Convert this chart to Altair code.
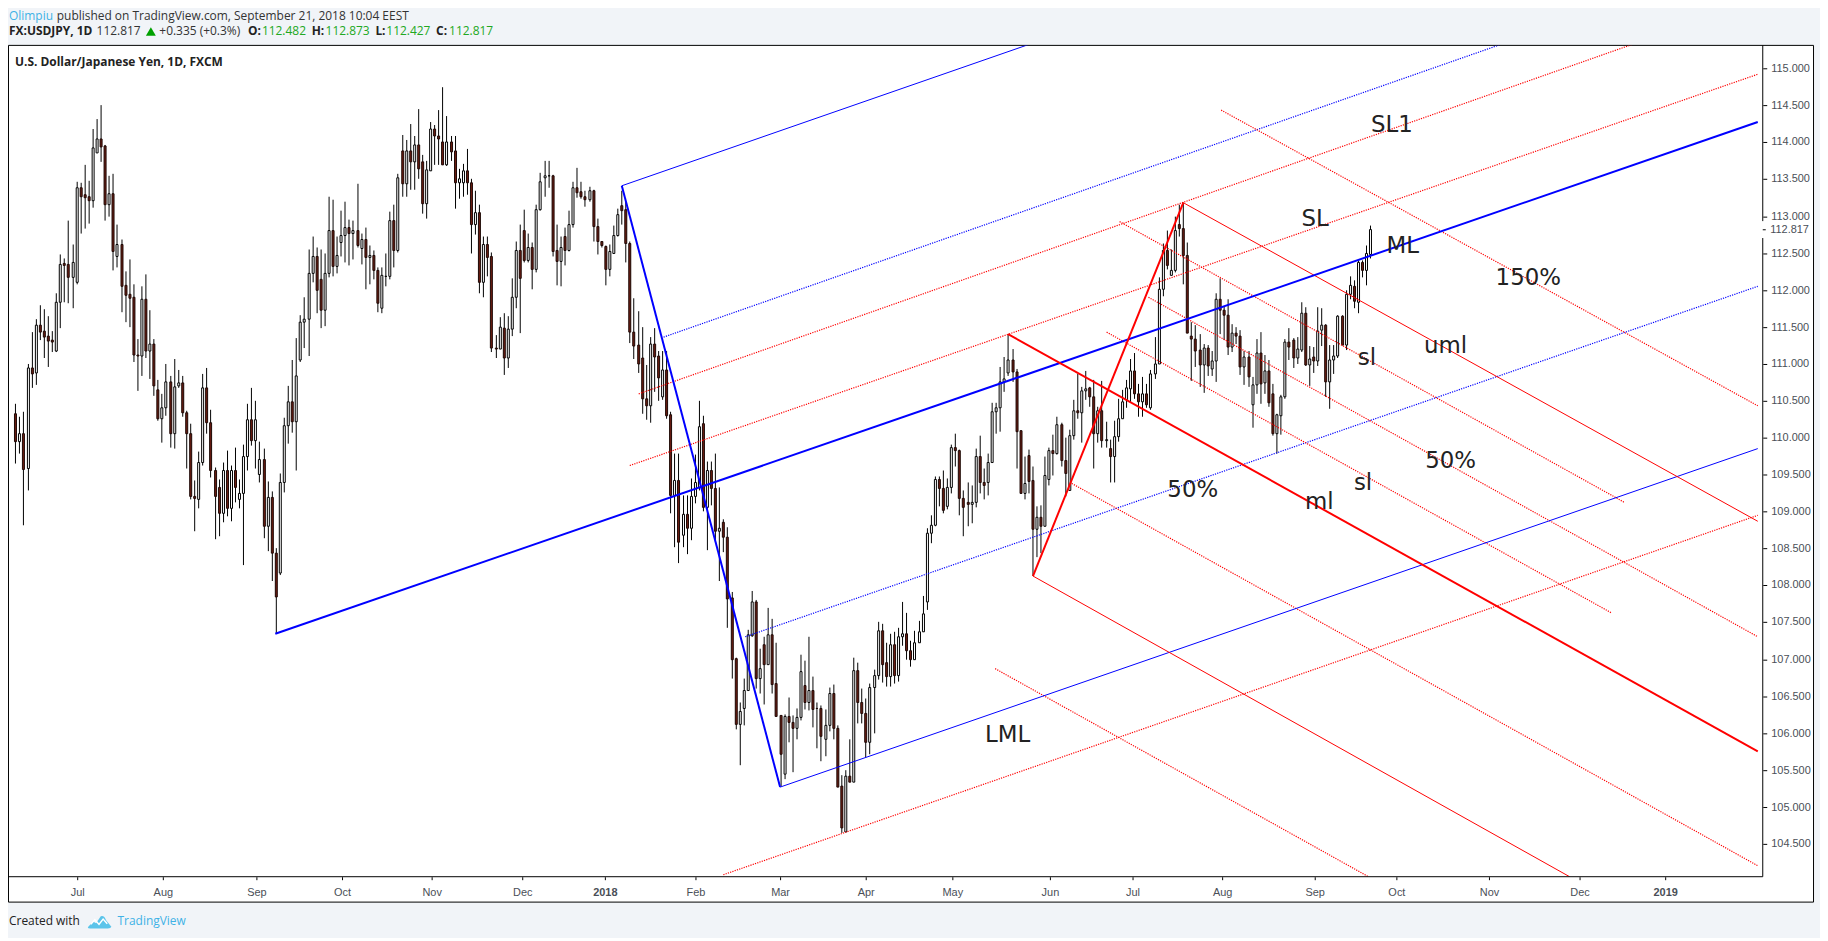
import altair as alt
import pandas as pd

opens = [110.32,109.94,110.06,109.58,110.95,110.88,111.53,111.44,111.37,111.32,
111.18,111.84,112.36,112.34,112.17,112.10,113.39,113.29,113.26,113.21,
113.86,114.04,113.95,113.16,113.30,112.46,112.62,112.06,111.94,111.90,
111.12,111.11,111.88,111.17,111.27,110.65,110.26,110.40,110.75,110.05,
110.70,110.74,110.34,110.06,109.21,109.16,109.66,110.67,110.20,109.56,
109.32,108.97,109.56,109.04,109.56,109.16,109.24,109.74,110.24,109.96,
109.50,109.70,108.80,109.19,108.43,108.17,109.40,110.16,110.49,110.22,
111.05,111.57,111.60,112.22,112.46,112.15,111.73,112.22,112.81,112.32,
112.64,112.74,112.85,112.76,112.81,112.56,112.68,112.44,112.47,112.27,
111.76,112.19,112.19,112.94,112.53,113.88,113.44,113.89,113.74,113.97,
113.73,113.17,113.62,114.18,114.09,114.01,113.69,114.01,113.88,113.45,
113.45,113.62,113.45,112.88,113.05,112.10,112.62,112.45,111.22,111.20,
111.49,111.08,111.47,111.90,112.54,112.80,112.40,112.58,112.28,113.09,
113.52,113.55,113.55,112.53,112.39,112.73,112.53,112.88,113.39,113.33,
113.27,113.22,113.35,112.86,112.66,112.59,112.28,112.50,112.74,113.14,
113.09,112.63,111.43,111.25,111.08,110.53,110.43,111.27,111.10,110.55,
110.92,110.31,109.22,109.42,108.68,108.96,108.78,109.20,109.32,110.19,
109.06,109.56,109.31,108.74,108.85,108.65,107.83,107.01,106.12,106.33,
106.58,107.32,107.78,106.74,107.20,106.92,107.33,106.67,106.24,105.45,
106.22,106.14,106.07,106.21,106.64,106.42,106.57,106.34,106.34,105.92,
106.10,106.54,106.06,105.28,104.66,105.41,105.34,106.85,106.42,106.27,
105.88,106.61,106.78,107.38,106.95,106.76,107.20,106.78,107.31,107.35,
107.11,107.00,107.23,107.37,107.78,108.71,108.81,109.43,109.31,109.07,
109.33,109.87,109.83,109.18,109.12,109.10,109.13,109.75,109.40,109.39,
109.66,110.35,110.40,110.76,110.88,111.05,110.89,110.09,109.25,109.76,
109.42,108.76,108.92,108.80,109.44,109.82,109.79,110.18,109.69,109.29,
110.03,110.37,110.34,110.63,110.67,110.55,110.06,110.37,109.96,109.85,
109.75,110.02,110.26,110.51,110.66,110.90,110.59,110.49,110.60,110.41,
110.86,111.00,112.01,112.54,112.20,112.26,112.88,112.83,112.47,111.38,
111.34,111.19,110.98,111.22,110.93,111.04,111.88,111.72,111.66,111.23,
111.41,111.38,110.96,111.09,110.45,110.72,111.15,110.74,110.91,110.59,
110.06,110.30,110.56,111.29,111.32,111.08,111.19,111.68,110.98,111.09,
111.04,111.45,111.53,110.75,111.05,111.11,111.64,111.26,111.94,112.05,
111.84,112.37,112.27,112.482]

closes = [109.94,110.06,109.57,110.95,110.86,111.53,111.43,111.36,111.31,111.30,
111.84,112.35,112.33,112.17,112.38,113.39,113.27,113.25,113.21,113.92,
114.04,113.94,113.16,113.30,112.52,112.62,112.05,111.93,111.89,111.12,
111.11,111.88,111.17,111.27,110.70,110.26,110.40,110.75,110.05,110.69,
110.74,110.34,110.06,109.21,109.18,109.66,110.67,110.20,109.56,109.21,
108.97,109.56,109.04,109.56,109.33,109.24,109.74,110.24,109.96,110.24,
109.70,108.80,109.19,108.43,107.85,109.40,110.16,110.49,110.22,110.84,
111.57,111.60,112.22,112.46,112.00,111.73,112.22,112.81,112.32,112.47,
112.74,112.85,112.76,112.81,112.60,112.68,112.44,112.47,112.27,111.82,
112.20,112.19,112.94,112.53,113.52,113.44,113.89,113.74,113.97,113.64,
113.17,113.63,114.18,114.08,114.05,113.69,114.01,113.87,113.45,113.51,
113.62,113.45,112.88,113.05,112.10,112.62,112.44,111.22,111.20,111.50,
111.08,111.47,111.90,112.54,112.16,112.40,112.58,112.28,113.09,113.46,
113.55,113.55,112.52,112.39,112.58,112.53,112.89,113.39,113.32,113.26,
113.22,113.35,112.86,112.66,112.60,112.28,112.52,112.74,113.02,113.08,
112.63,111.43,111.24,111.00,110.52,110.43,111.27,111.09,110.81,110.92,
110.30,109.22,109.42,108.59,108.96,108.78,109.20,109.39,110.15,109.06,
109.56,109.31,108.74,108.78,108.65,107.82,107.00,106.12,106.29,106.58,
107.33,107.78,106.74,106.87,106.92,107.33,106.66,106.23,105.72,106.22,
106.14,106.07,106.21,106.83,106.42,106.57,106.32,106.33,105.96,106.10,
106.54,106.06,105.27,104.72,105.41,105.34,106.85,106.42,106.27,105.88,
106.61,106.78,107.38,106.92,106.76,107.20,106.78,107.31,107.35,107.11,
107.00,107.23,107.37,107.62,108.71,108.82,109.43,109.31,109.02,109.33,
109.87,109.83,109.18,109.06,109.10,109.13,109.75,109.40,109.36,109.66,
110.35,110.40,110.76,110.80,111.05,110.89,110.08,109.25,109.38,109.41,
108.76,108.92,108.80,109.49,109.82,109.79,110.18,109.69,109.52,110.03,
110.37,110.34,110.63,110.66,110.55,110.06,110.37,109.96,109.98,109.75,
110.02,110.26,110.49,110.67,110.90,110.59,110.49,110.60,110.45,110.86,
111.00,112.01,112.54,112.33,112.27,112.80,112.83,112.47,111.42,111.34,
111.18,110.98,111.22,110.97,111.04,111.88,111.72,111.66,111.23,111.41,
111.38,110.96,111.09,110.82,110.72,111.15,110.73,110.91,110.47,110.06,
110.31,110.56,111.29,111.23,111.08,111.20,111.68,110.98,111.06,111.04,
111.44,111.53,110.75,111.05,111.11,111.64,111.26,111.94,112.06,111.85,
112.37,112.26,112.49,112.817]

highs = [110.46,110.29,110.35,111.00,111.43,111.61,111.80,111.74,111.65,111.44,
111.95,112.48,112.43,112.94,112.61,113.47,113.45,113.69,113.48,114.18,
114.31,114.50,113.97,113.54,113.58,112.88,112.69,112.25,112.42,112.08,
111.33,112.05,112.21,111.72,111.34,110.78,110.60,111.00,110.83,111.06,
110.92,110.83,110.37,110.19,109.42,109.81,110.86,110.95,110.38,109.60,
109.43,109.67,109.83,109.62,109.86,109.43,109.91,110.46,110.68,110.50,
109.94,109.85,109.41,109.27,108.50,109.51,110.27,110.70,111.05,111.35,
111.66,111.90,112.55,112.72,112.58,112.55,112.49,113.27,113.22,112.73,
113.07,113.20,112.95,112.94,113.44,112.77,112.84,112.60,112.53,112.31,
112.31,112.49,113.06,113.15,113.58,114.10,114.03,114.25,114.09,114.45,
113.83,113.75,114.28,114.23,114.43,114.74,114.35,114.08,114.08,113.64,
113.71,113.91,113.50,113.34,113.15,112.73,112.72,112.51,111.39,111.63,
111.69,111.65,112.16,112.65,112.88,113.09,112.76,112.64,113.16,113.59,
113.75,113.75,113.56,112.89,112.73,112.84,113.08,113.47,113.65,113.46,
113.35,113.40,113.36,112.97,112.66,112.60,112.61,112.87,113.10,113.35,
113.20,112.66,111.89,111.71,111.50,110.99,111.36,111.49,111.18,111.18,
111.18,110.35,109.78,109.79,109.22,109.22,109.45,109.77,110.50,110.30,
109.68,109.68,109.79,109.32,108.89,108.79,107.91,107.02,106.41,106.74,
107.40,107.92,107.80,107.14,107.31,107.69,107.55,107.22,106.24,106.25,
106.48,106.24,106.33,107.06,106.98,107.30,106.76,106.42,106.38,106.32,
106.62,106.66,106.11,105.43,105.50,105.92,107.02,106.95,106.60,106.47,
106.67,106.86,107.50,107.48,107.22,107.35,107.37,107.43,107.78,107.63,
107.25,107.39,107.52,107.86,108.77,108.95,109.48,109.48,109.55,109.45,
109.90,110.05,109.84,109.28,109.40,109.36,109.85,110.03,109.58,109.79,
110.47,110.47,110.96,111.09,111.40,111.20,110.93,110.09,109.75,109.84,
109.61,109.07,109.08,109.74,109.86,110.04,110.28,110.20,110.00,110.11,
110.51,110.86,110.69,110.91,110.69,110.78,110.42,110.77,110.22,109.97,
110.23,110.53,110.65,110.78,111.07,111.15,110.73,110.82,110.73,110.92,
111.36,112.17,112.63,112.81,112.55,113.00,113.16,113.18,112.64,111.57,
111.52,111.40,111.27,111.25,111.17,111.96,112.16,111.78,111.88,111.54,
111.50,111.45,111.18,111.18,110.82,111.33,111.43,111.12,111.05,110.73,
110.33,110.58,111.34,111.48,111.35,111.36,111.84,111.77,111.24,111.23,
111.77,111.76,111.54,111.25,111.25,111.66,111.66,112.00,112.19,112.13,
112.40,112.40,112.60,112.873]

lows = [109.65,109.79,108.82,109.29,110.67,110.72,111.32,111.08,110.96,111.16,
111.16,111.48,111.84,111.82,111.75,112.08,112.76,112.83,112.90,113.12,
113.86,113.73,112.94,113.00,112.26,112.30,111.70,111.57,111.50,111.03,
110.64,110.83,111.08,110.79,110.57,110.23,109.93,110.30,109.87,109.85,
110.67,110.28,109.58,109.17,108.74,109.04,109.62,110.05,109.46,108.62,
108.66,108.86,108.94,108.87,109.13,109.04,108.28,109.55,109.89,109.58,
109.39,108.64,108.47,108.06,107.34,108.14,109.26,109.92,110.07,109.55,
111.02,111.21,111.11,112.10,111.68,111.49,111.51,112.17,112.18,112.23,
112.46,112.38,112.33,112.42,112.57,112.35,112.01,112.08,112.14,111.70,
111.68,112.05,112.14,112.31,112.51,113.26,113.26,113.36,113.36,113.51,
113.03,112.97,113.61,113.70,113.70,113.69,113.68,113.75,113.10,113.24,
113.26,113.29,112.49,112.75,111.96,111.90,112.18,111.16,111.08,111.20,
110.85,110.94,111.38,111.75,111.42,112.37,112.37,112.01,112.24,113.08,
113.26,113.38,112.46,112.07,112.05,112.33,112.52,112.85,113.25,113.23,
113.13,113.20,112.66,112.48,112.58,112.06,112.18,112.49,112.72,112.89,
112.37,111.28,111.06,110.88,110.33,110.25,110.20,110.62,110.50,110.51,
110.26,108.97,108.52,108.30,108.52,108.42,108.61,109.11,109.28,109.00,
108.48,109.09,108.60,108.06,108.45,107.43,106.74,106.05,105.57,106.11,
106.58,107.30,106.60,106.53,106.39,106.92,106.53,106.23,105.28,105.37,
105.88,105.47,105.91,106.17,106.32,106.31,106.08,105.80,105.62,105.69,
106.03,105.91,105.27,104.65,104.66,105.34,105.34,106.13,106.13,105.67,
105.72,106.00,106.73,106.69,106.63,106.63,106.67,106.70,107.18,107.00,
106.90,107.00,107.22,107.37,107.67,108.57,108.80,109.07,108.97,109.03,
109.25,109.61,108.95,108.67,108.80,108.84,109.06,109.25,109.16,109.22,
109.66,110.06,110.08,110.62,110.83,110.75,109.58,109.25,109.17,109.25,
108.13,108.38,108.44,108.80,109.36,109.49,109.77,109.61,109.20,109.29,
109.97,110.26,109.93,110.51,110.42,109.58,109.93,109.86,109.86,109.39,
109.39,109.95,110.26,110.40,110.47,110.53,110.29,110.29,110.40,110.38,
110.79,111.00,111.92,112.28,112.20,112.24,112.73,112.08,111.42,110.77,
110.96,110.69,110.61,110.83,110.83,110.75,111.40,111.32,111.12,111.16,
111.27,110.85,110.72,110.69,110.13,110.60,110.46,110.60,110.42,110.03,
109.79,110.04,110.53,111.05,110.95,111.00,111.16,110.97,110.70,110.88,
110.97,111.24,110.55,110.39,110.87,111.08,111.25,111.19,111.87,111.76,
111.68,112.17,112.06,112.427]

tick_pos = [16.2,37.25,60.05,81.2,103.1,125.5,145.9,168.1,188.8,209.9,231.3,255.2,275.6,297.5,320.2,340.4,363.2,385.4,406.3]
tick_labels = ["Jul","Aug","Sep","Oct","Nov","Dec","2018","Feb","Mar","Apr","May","Jun","Jul","Aug","Sep","Oct","Nov","Dec","2019"]
price_ticks = [104.5,105,105.5,106,106.5,107,107.5,108,108.5,109,109.5,110,110.5,111,111.5,112,112.5,113,113.5,114,114.5,115]

# pitchfork segments: bar position and price at both ends
thick_blue = [(64.9,107.34,429.15,114.28),(150.0,113.41,188.8,105.27)]
thin_blue = [(150.0,113.41,250.1,115.32),(188.8,105.27,429.15,109.85)]
dotted_blue = [(160.3,111.36,365.9,115.32),(180.2,107.30,429.15,112.05)]
thick_red = [(245.0,111.40,429.15,105.76),(251.1,108.12,288.0,113.18)]
thin_red = [(288.0,113.18,429.15,108.87),(251.1,108.12,382.9,104.06)]
dotted_red = [(297.3,114.44,429.15,110.43),(272.2,112.92,396.3,109.12),(279.5,111.90,429.15,107.31),
              (269.1,111.43,393.1,107.63),(260.5,109.38,429.15,104.21),(241.8,106.87,333.5,104.06),
              (154.2,110.60,398.3,115.32),(152.0,109.62,429.15,114.92),(174.9,104.08,429.15,108.95)]

annotations = [("SL1",1398,123),("SL",1321,218),("ML",1409,245),("150%",1535,277),("uml",1452,345),("sl",1373,358),
               ("50%",1457,461),("sl",1369,483),("50%",1198,490),("ml",1325,502),("LML",1012,736)]

X0, Y0 = 8.5, 43.5            # page position of the plot area's corner
W, H = 1762, 835
df = pd.DataFrame({"k": range(1, len(opens)+1), "o": opens, "h": highs, "l": lows, "c": closes})
ups = df[df.c >= df.o]
downs = df[df.c < df.o]

x_scale = alt.Scale(domain=[0.44, 429.15], nice=False, zero=False, round=True)
y_scale = alt.Scale(domain=[104.055, 115.3126], nice=False, zero=False, round=True)
LABEL = "#4a4f57"
x_axis = alt.Axis(values=tick_pos, title=None, domain=False, grid=False, tickColor="black", tickSize=3, zindex=1,
                  labelExpr="%s[indexof(%s, datum.value)]" % (tick_labels, tick_pos),
                  labelFont="Liberation Sans", labelFontSize=11, labelColor=LABEL, labelPadding=7, labelFlush=False,
                  labelOverlap=False,
                  labelFontWeight={"expr": "datum.value==145.9||datum.value==406.3?'bold':'normal'"})
y_axis = alt.Axis(values=price_ticks, title=None, orient="right", format=".3f", domain=False, grid=False,
                  tickColor="black", tickSize=4, zindex=1, labelFont="Liberation Sans", labelFontSize=11,
                  labelColor=LABEL, labelPadding=4, labelOverlap=False, labelFlush=False)

blank = alt.Data(values=[{"a": 0}])

def px(value):
    return alt.value(value - X0)

def py(value):
    return alt.value(value - Y0)

def txt(text, x, y, size=12, color="#333333", weight="normal", font="Open Sans", align="left"):
    return alt.Chart(blank).mark_text(text=text, fontSize=size, color=color, fontWeight=weight, font=font,
                                      align=align, baseline="middle").encode(x=px(x), y=py(y))

def segments(rows, color, width, dash=None):
    d = pd.DataFrame(rows, columns=["x1", "p1", "x2", "p2"])
    kw = {"strokeDash": dash} if dash else {}
    return alt.Chart(d).mark_rule(color=color, strokeWidth=width, clip=True, **kw).encode(
        x=alt.X("x1:Q", scale=x_scale, axis=x_axis), x2="x2:Q",
        y=alt.Y("p1:Q", scale=y_scale, axis=y_axis), y2="p2:Q")

panel = alt.Chart(blank).mark_rect(fill="white", stroke="black", strokeWidth=1).encode(
    x=alt.value(0), x2=px(1821.5), y=py(43.5), y2=py(904))

wicks = alt.Chart(df).mark_rule(color="black", strokeWidth=1, clip=True).encode(
    x=alt.X("k:Q", scale=x_scale, axis=x_axis),
    y=alt.Y("l:Q", scale=y_scale, axis=y_axis), y2="h:Q")

body_up = alt.Chart(ups).mark_bar(size=2, fill="white", stroke="black", strokeWidth=1, orient="vertical", clip=True).encode(
    x=alt.X("k:Q", scale=x_scale, axis=x_axis), y=alt.Y("o:Q", scale=y_scale, axis=y_axis), y2="c:Q")
body_down = alt.Chart(downs).mark_bar(size=2, fill="#6b1d12", stroke="#1c0805", strokeWidth=1, orient="vertical", clip=True).encode(
    x=alt.X("k:Q", scale=x_scale, axis=x_axis), y=alt.Y("o:Q", scale=y_scale, axis=y_axis), y2="c:Q")

line_layers = [
    segments(dotted_blue, "#0000ff", 1.2, [1.2, 1.2]),
    segments(dotted_red, "#ff0000", 1.2, [1.2, 1.2]),
    segments(thin_blue, "#0000ff", 1),
    segments(thin_red, "#ff0000", 1),
    segments(thick_blue, "#0000ff", 2),
    segments(thick_red, "#ff0000", 2),
]

axis_lines = [
    alt.Chart(blank).mark_rule(color="black").encode(x=alt.value(W), y=alt.value(0), y2=py(220)),
    alt.Chart(blank).mark_rule(color="black").encode(x=alt.value(W), y=py(237), y2=alt.value(H)),
    alt.Chart(blank).mark_rule(color="black").encode(x=alt.value(0), x2=alt.value(W), y=alt.value(H)),
    alt.Chart(blank).mark_rule(color="black").encode(x=alt.value(W), x2=alt.value(W + 3), y=py(228.7)),
    txt("112.817", 1778, 228.7, 11, LABEL, font="Liberation Sans"),
]

note_layers = [txt(t, x, y, 23, "#222222", font="DejaVu Sans", align="center") for t, x, y in annotations]

GREEN = "#22a822"
BLUE = "#3fb2e6"
head = [
    txt("Olimpiu", 9, 14, 12, BLUE),
    txt("published on TradingView.com, September 21, 2018 10:04 EEST", 57, 14, 12),
    txt("FX:USDJPY, 1D", 9, 29.5, 12, "#222222", "bold"),
    txt("112.817", 97, 29.5, 12),
    txt("+0.335 (+0.3%)", 160, 29.5, 12),
    txt("O:", 249, 29.5, 12, "#222222", "bold"),
    txt("112.482", 263, 29.5, 12, GREEN),
    txt("H:", 313, 29.5, 12, "#222222", "bold"),
    txt("112.873", 327, 29.5, 12, GREEN),
    txt("L:", 377, 29.5, 12, "#222222", "bold"),
    txt("112.427", 388, 29.5, 12, GREEN),
    txt("C:", 438, 29.5, 12, "#222222", "bold"),
    txt("112.817", 451, 29.5, 12, GREEN),
    alt.Chart(blank).mark_point(shape="triangle-up", filled=True, color="#00a000", size=100, opacity=1).encode(x=px(151.5), y=py(29.5)),
    txt("U.S. Dollar/Japanese Yen, 1D, FXCM", 15, 60, 12, "#222222", "bold"),
    txt("Created with", 9, 923, 12, "#222222"),
    txt("TradingView", 118, 923, 12, BLUE),
    alt.Chart(blank).mark_point(shape="M-1,0.45 L-0.55,-0.05 L-0.3,0.1 L0.1,-0.5 Q0.4,-0.6 0.55,-0.15 L1,0.4 Q0.95,0.55 0.7,0.55 L-0.8,0.55 Q-1,0.55 -1,0.45Z",
                                filled=True, color="#5bc4ea", size=560, opacity=1).encode(x=px(100), y=py(924)),
    alt.Chart(blank).mark_point(shape="M-0.75,0.2 L-0.4,-0.2 L-0.05,0.2 L0.3,-0.25 L0.65,0.15",
                                filled=False, color="white", size=560, strokeWidth=1.5, opacity=1).encode(x=px(100), y=py(924)),
]

chart = alt.layer(panel, wicks, body_up, body_down, *line_layers, *axis_lines, *note_layers, *head).properties(
    width=W, height=H, background="#f1f4f8",
    padding={"left": 0.5, "top": Y0 - 8, "right": 57.5, "bottom": 930 - (Y0 - 8) - H},
    autosize=alt.AutoSizeParams(type="none"),
).resolve_scale(x="shared", y="shared").configure_view(strokeWidth=0)

chart.save("out.html", embed_options={"renderer": "svg", "actions": False})
